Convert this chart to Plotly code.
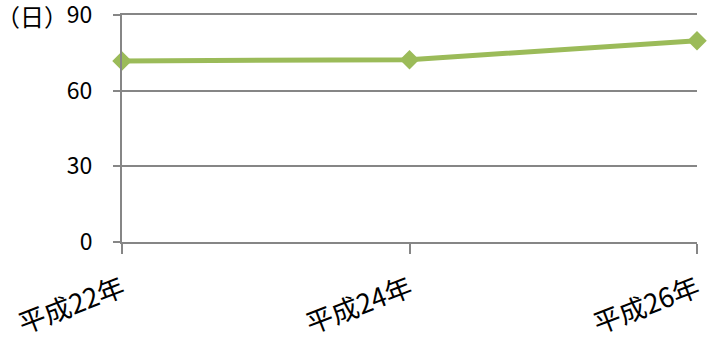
import plotly.graph_objects as go

categories = ["平成22年", "平成24年", "平成26年"]
values = [71.8, 72.3, 79.8]
y_ticks = [0, 30, 60, 90]
y_unit = "（日）"

FONT = "Noto Sans CJK JP"
GRID = "#868686"
GREEN = "#9BBB59"

fig = go.Figure()
fig.add_trace(go.Scatter(
    x=categories, y=values, mode="lines+markers",
    line=dict(color=GREEN, width=5),
    marker=dict(symbol="diamond", size=15, color=GREEN),
    cliponaxis=False, showlegend=False,
))

fig.update_layout(
    width=707, height=342,
    margin=dict(l=122, r=10, t=15, b=100),
    paper_bgcolor="white", plot_bgcolor="white",
    font=dict(family=FONT, size=23, color="black"),
    xaxis=dict(
        type="category", range=[0, 2], showgrid=False, automargin=False,
        showline=True, linecolor=GRID, linewidth=2, mirror=True,
        ticks="outside", ticklen=10, tickcolor=GRID, tickwidth=2,
        tickangle=-21, tickfont=dict(family=FONT, size=27),
        ticklabelstandoff=9,
    ),
    yaxis=dict(
        range=[0, 90], tickvals=y_ticks, ticktext=[str(v) for v in y_ticks],
        showgrid=True, gridcolor=GRID, gridwidth=1.5, automargin=False,
        showline=True, linecolor=GRID, linewidth=2,
        ticks="outside", ticklen=7, tickcolor=GRID, tickwidth=2,
        ticklabelstandoff=16, zeroline=False, ticklabeloverflow="allow",
        tickfont=dict(family=FONT, size=23),
    ),
    annotations=[dict(
        text=y_unit, xref="paper", yref="y", x=-0.09, y=90,
        xanchor="right", yanchor="middle", showarrow=False,
        font=dict(family=FONT, size=24, color="black"),
    )],
)

fig.write_html("out.html", config={"displayModeBar": False},
               post_script="document.body.style.margin='0';")
